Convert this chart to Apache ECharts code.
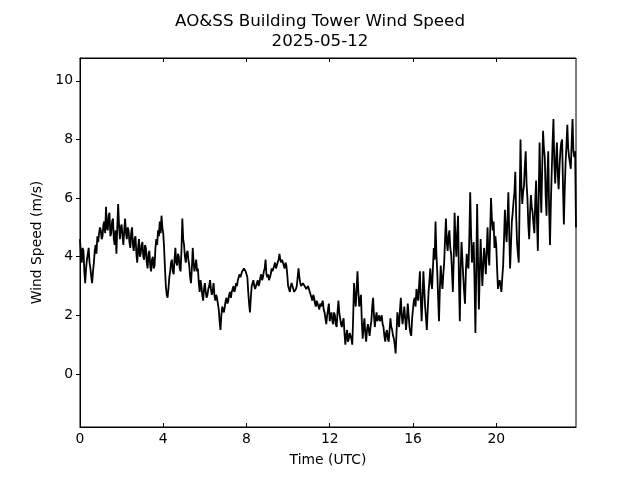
<!DOCTYPE html>
<html>
<head>
<meta charset="utf-8">
<script src="https://cdn.jsdelivr.net/npm/echarts@6/dist/echarts.min.js"></script>
<style>
html,body{margin:0;padding:0;background:#fff;}
#chart{width:640px;height:480px;}
</style>
</head>
<body>
<div id="chart"></div>
<script>
// Wind speed (m/s), 2.5-minute samples, one array per UTC hour
const h00 = [4.6,4.1,3.8,4.3,4.2,3.5,3.1,3.6,3.9,4.1,4.3,3.8,3.6,3.3,3.1,3.5,3.8,4.2,4.4,4.1,4.7,4.5,4.8,5.0];
const h01 = [4.9,4.6,4.7,5.1,5.2,4.8,5.7,5.0,4.9,5.4,5.5,4.7,4.8,5.2,5.3,4.6,4.4,4.9,4.1,5.0,5.8,5.1,4.6,5.0];
const h02 = [5.1,4.7,4.4,4.9,5.3,4.8,4.6,5.0,4.9,4.5,4.3,4.8,5.0,4.4,4.2,4.6,4.7,4.1,3.8,4.3,4.6,4.0,4.1,4.4];
const h03 = [4.5,4.0,3.9,4.4,4.3,3.8,3.6,4.1,4.2,3.7,3.5,3.9,4.0,3.6,3.7,4.3,4.6,4.4,4.9,4.7,5.2,4.8,5.4,5.0];
const h04 = [4.8,4.3,3.6,3.0,2.7,2.6,2.9,3.3,3.5,3.8,3.9,3.5,3.4,3.9,4.3,3.8,3.7,4.1,4.0,3.6,3.5,4.2,5.3,4.6];
const h05 = [4.4,4.0,3.8,4.1,4.2,3.9,3.7,3.3,3.1,3.6,4.3,3.8,3.5,3.7,3.9,3.5,3.6,3.1,2.8,3.2,3.0,2.7,2.5,2.9];
const h06 = [3.1,2.8,2.6,2.7,2.9,3.0,3.2,2.9,2.7,2.8,3.1,2.7,2.5,2.7,2.6,2.4,2.2,1.8,1.5,2.0,2.3,2.2,2.1,2.3];
const h07 = [2.5,2.6,2.4,2.5,2.7,2.8,2.6,2.8,2.9,3.0,2.8,2.9,3.1,3.0,3.2,3.3,3.4,3.3,3.3,3.5,3.5,3.6,3.6,3.5];
const h08 = [3.5,3.3,2.8,2.4,2.1,2.6,3.0,3.1,3.2,3.0,2.9,3.0,3.1,3.2,3.0,3.1,3.3,3.4,3.2,3.3,3.5,3.6,3.9,3.4];
const h09 = [3.3,3.4,3.2,3.3,3.4,3.6,3.5,3.6,3.7,3.8,3.6,3.7,3.8,3.9,4.1,3.9,3.8,3.9,3.9,3.7,3.6,3.8,3.7,3.4];
const h10 = [3.0,2.9,2.8,3.0,3.1,3.0,2.9,2.8,2.8,2.9,3.0,3.3,3.6,3.3,3.1,3.0,3.0,3.1,3.1,3.0,3.0,2.9,2.9,3.0];
const h11 = [3.0,2.8,2.7,2.6,2.5,2.7,2.6,2.4,2.3,2.5,2.4,2.3,2.2,2.4,2.3,2.4,2.5,2.2,2.1,1.9,1.7,2.0,2.2,2.4];
const h12 = [1.8,2.0,2.1,1.8,1.7,2.1,2.0,1.7,1.6,2.1,2.5,2.1,1.9,1.7,1.6,1.8,1.9,1.4,1.0,1.3,1.5,1.1,1.2,1.4];
const h13 = [1.3,1.2,1.0,1.9,3.1,2.6,2.3,2.9,3.5,2.8,2.3,2.5,2.7,1.8,1.2,1.6,1.9,1.4,1.1,1.5,1.7,1.5,1.3,1.6];
const h14 = [1.8,2.3,2.6,2.0,1.6,1.9,2.1,1.8,1.9,2.0,1.8,1.9,2.0,1.7,1.6,1.3,1.1,1.4,1.5,1.2,1.1,1.5,1.9,1.6];
const h15 = [1.5,1.3,1.2,1.0,0.7,1.4,2.1,1.8,1.6,2.2,2.6,2.0,1.7,2.0,2.3,1.9,1.5,1.9,2.4,2.0,1.6,1.4,1.3,1.9];
const h16 = [2.2,2.5,2.6,2.3,2.9,2.7,2.5,3.0,3.5,2.5,1.8,2.6,3.5,2.9,2.3,1.9,1.5,2.2,2.8,3.2,3.6,3.1,2.9,3.6];
const h17 = [4.3,3.9,5.2,4.1,3.5,2.6,1.8,2.9,3.7,3.2,2.9,3.4,3.8,4.6,5.3,4.5,4.2,4.7,4.9,4.3,4.1,3.5,2.8,3.9];
const h18 = [5.5,4.6,4.0,4.8,5.4,3.2,1.8,3.6,4.5,3.9,3.3,2.8,2.4,3.5,4.1,3.7,3.6,4.7,6.2,4.8,3.8,4.2,4.5,3.1];
const h19 = [1.4,3.6,5.8,3.9,2.2,3.4,4.6,3.8,3.0,3.7,4.3,3.9,3.4,4.2,5.0,4.1,3.7,4.8,6.0,5.3,4.9,5.2,4.3,4.7];
const h20 = [4.4,3.6,2.9,3.1,3.2,3.0,2.8,3.3,3.7,4.6,5.6,4.9,4.5,5.3,6.2,4.8,3.6,4.4,5.2,5.5,5.9,6.2,6.9,5.4];
const h21 = [4.5,4.1,3.8,5.9,8.0,6.5,5.8,6.2,6.4,7.1,7.6,6.5,6.0,5.1,4.6,5.5,6.1,5.7,5.5,5.1,4.8,5.9,6.6,5.2];
const h22 = [4.2,6.1,7.9,6.4,5.5,7.0,8.3,7.7,7.4,6.1,5.4,6.8,7.6,5.6,4.4,5.8,6.9,7.9,8.7,7.2,6.5,7.3,7.9,6.8];
const h23 = [6.3,7.1,7.6,7.9,8.0,6.4,5.1,6.3,7.2,7.8,8.5,7.7,7.4,7.2,7.0,7.9,8.7,7.6,7.4,7.6,5.0];

const hourly = [h00,h01,h02,h03,h04,h05,h06,h07,h08,h09,h10,h11,h12,h13,h14,h15,h16,h17,h18,h19,h20,h21,h22,h23];
const sampleMinutes = 2.5;

const xTickValues = [0, 4, 8, 12, 16, 20];
const yTickValues = [0, 2, 4, 6, 8, 10];

const titleText = 'AO&SS Building Tower Wind Speed';
const dateText = '2025-05-12';
const xName = 'Time (UTC)';
const yName = 'Wind Speed (m/s)';

const seriesData = [];
hourly.forEach((arr, h) => {
  arr.forEach((v, k) => seriesData.push([h + k * sampleMinutes / 60, v]));
});
const xMax = seriesData[seriesData.length - 1][0];

const FONT = 'DejaVu Sans';
const txt = {fontFamily: FONT, fontSize: 13.9, color: '#000'};
const titleStyle = {fontFamily: FONT, fontSize: 16.7, fontWeight: 'normal', color: '#000'};

const chart = echarts.init(document.getElementById('chart'), null, {renderer: 'canvas'});
chart.setOption({
  animation: false,
  backgroundColor: '#fff',
  title: [
    {text: titleText, left: 'center', top: 8, textStyle: titleStyle},
    {text: dateText, left: 'center', top: 28, textStyle: titleStyle}
  ],
  grid: {left: 80, right: 64, top: 58, bottom: 53, show: true, borderColor: '#000', borderWidth: 1, containLabel: false},
  xAxis: [{
    type: 'value', min: 0, max: xMax, position: 'bottom',
    axisLine: {show: true, onZero: false, lineStyle: {color: '#000', width: 1}},
    axisTick: {show: true, inside: true, length: 4, customValues: xTickValues, lineStyle: {color: '#000', width: 1}},
    axisLabel: {show: true, customValues: xTickValues, margin: 5, ...txt},
    splitLine: {show: false},
    name: xName, nameLocation: 'middle', nameGap: 26,
    nameTextStyle: {...txt}
  }, {
    type: 'value', min: 0, max: xMax, position: 'top',
    axisLine: {show: true, onZero: false, lineStyle: {color: '#000', width: 1}},
    axisTick: {show: true, inside: true, length: 4, customValues: xTickValues, lineStyle: {color: '#000', width: 1}},
    axisLabel: {show: false},
    splitLine: {show: false}
  }],
  yAxis: {
    type: 'value', min: -1.81, max: 10.78,
    axisLine: {show: true, onZero: false, lineStyle: {color: '#000', width: 1}},
    axisTick: {show: true, inside: false, length: 4, customValues: yTickValues, lineStyle: {color: '#000', width: 1}},
    axisLabel: {show: true, customValues: yTickValues, margin: 7, ...txt},
    splitLine: {show: false},
    name: yName, nameLocation: 'middle', nameGap: 35,
    nameTextStyle: {...txt}
  },
  series: [{
    type: 'line',
    xAxisIndex: 0,
    data: seriesData,
    showSymbol: false,
    lineStyle: {color: '#000', width: 1.8},
    itemStyle: {color: '#000'}
  }]
});
</script>
</body>
</html>
